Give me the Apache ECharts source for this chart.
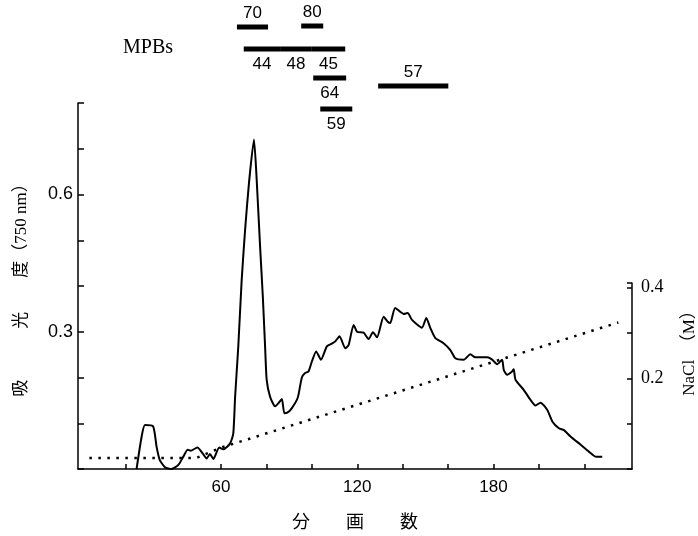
<!DOCTYPE html>
<html>
<head>
<meta charset="utf-8">
<script src="https://cdn.jsdelivr.net/npm/echarts@6.0.0/dist/echarts.min.js"></script>
<style>
html, body { margin: 0; padding: 0; background: #fff; }
#main { width: 698px; height: 536px; }
</style>
</head>
<body>
<div id="main"></div>
<script>
// 吸光度曲线 (分画数, 吸光度)
var absFrac = [22.8, 25, 26.5, 30.1, 31.6, 33, 35.3, 38.2, 41.2, 43.4, 45.3, 46.6, 49.6, 51.9, 53.7, 55.1, 56.6, 59.2, 61, 64,
    65.4, 66.2, 67.6, 69.1, 70.6, 72.3, 74.5, 75.7, 77.2, 78.4, 79.4, 80.1, 81.6, 83.8, 85.3, 86.8, 87.9, 89.7, 91.2, 93.4,
    94.1, 95.6, 97, 98.5, 100, 101.9, 104, 106.6, 108.8, 110.3, 112.2, 114.7, 116.2, 118.4, 119.9, 122.8, 125, 126.9, 128.7, 131.6,
    133.4, 134.5, 136.7, 140.4, 142.2, 144.1, 148.5, 150.4, 152.2, 154.4, 158, 161, 163.2, 166.9, 169.8, 172, 177.2, 179.4, 181.6, 183.8,
    184.5, 186, 188.2, 188.9, 189.7, 193.3, 196.3, 198.5, 200.7, 203.7, 205.9, 208.8, 211, 213.9, 218.4, 222, 225, 227.9];
var absValue = [0, 0.07, 0.096, 0.093, 0.049, 0.02, 0.004, 0, 0.009, 0.027, 0.042, 0.04, 0.047, 0.034, 0.023, 0.033, 0.022, 0.047, 0.043, 0.056,
    0.078, 0.158, 0.268, 0.414, 0.523, 0.625, 0.72, 0.632, 0.486, 0.377, 0.268, 0.195, 0.158, 0.137, 0.144, 0.153, 0.122, 0.125, 0.133, 0.151,
    0.162, 0.2, 0.21, 0.213, 0.235, 0.257, 0.239, 0.268, 0.274, 0.279, 0.29, 0.264, 0.271, 0.315, 0.3, 0.298, 0.284, 0.299, 0.288, 0.333,
    0.322, 0.319, 0.352, 0.339, 0.341, 0.326, 0.309, 0.33, 0.308, 0.286, 0.275, 0.26, 0.242, 0.239, 0.251, 0.244, 0.244, 0.239, 0.229, 0.239,
    0.217, 0.206, 0.213, 0.218, 0.195, 0.173, 0.151, 0.139, 0.145, 0.129, 0.104, 0.089, 0.085, 0.071, 0.053, 0.038, 0.027, 0.027];

// NaCl 浓度梯度
var naclFrac = [2, 49, 60, 235];
var naclValue = [0.024, 0.024, 0.047, 0.323];

// MPBs 区带
var bandName = ['70', '80', '44', '48', '45', '64', '57', '59'];
var bandFrom = [67, 95.3, 70, 86, 100, 100.6, 129.2, 103.7];
var bandTo = [80.7, 105, 86, 100, 114.7, 115.1, 160.1, 117.8];
var bandLane = [27, 26, 49, 49, 49, 78, 86, 109];
var bandSide = ['up', 'up', 'down', 'down', 'down', 'down', 'up', 'down'];

var fracTicks = [18, 60, 80, 100, 120, 140, 160, 180, 200, 220];
var fracLabels = [60, 120, 180];
var absLabels = [0.3, 0.6];
var naclLabels = [0.2, 0.4];

function pairs(xs, ys) {
    return xs.map(function (x, i) { return [x, ys[i]]; });
}
function pick(list) {
    return function (v) {
        for (var i = 0; i < list.length; i++) {
            if (Math.abs(v - list[i]) < 1e-6) return list[i].toFixed(1);
        }
        return '';
    };
}

var black = '#000';
var myChart = echarts.init(document.getElementById('main'));

var option = {
    animation: false,
    backgroundColor: '#fff',
    grid: [
        { left: 78, right: 66, top: 103, bottom: 67 },
        { left: 78, right: 66, top: 283, bottom: 67 },
        { left: 78, right: 66, top: 0, height: 130 }
    ],
    xAxis: [
        {
            gridIndex: 0, type: 'value', min: -3, max: 241,
            axisLine: { onZero: false, lineStyle: { color: black, width: 1.5 } },
            axisTick: { inside: true, length: 5, customValues: fracTicks, lineStyle: { color: black, width: 1.5 } },
            axisLabel: { customValues: fracLabels, margin: 10, color: black, fontSize: 17, fontFamily: 'Liberation Sans' },
            splitLine: { show: false },
            name: '分\u3000\u3000画\u3000\u3000数',
            nameLocation: 'middle', nameGap: 43,
            nameTextStyle: { color: black, fontSize: 18, fontFamily: 'Noto Sans CJK JP' }
        },
        { gridIndex: 1, type: 'value', min: -3, max: 241, show: false },
        { gridIndex: 2, type: 'value', min: -3, max: 241, show: false }
    ],
    yAxis: [
        {
            gridIndex: 0, type: 'value', min: 0, max: 0.8, interval: 0.1,
            axisLine: { show: true, onZero: false, lineStyle: { color: black, width: 1.5 } },
            axisTick: { show: true, inside: true, length: 6, lineStyle: { color: black, width: 1.5 } },
            axisLabel: { formatter: pick(absLabels), margin: 5, color: black, fontSize: 18, fontFamily: 'Liberation Sans' },
            splitLine: { show: false },
            name: '吸\u3000\u3000\u3000光\u3000\u3000度（750 nm）',
            nameLocation: 'middle', nameGap: 48,
            nameTextStyle: { color: black, fontSize: 17, fontFamily: 'Liberation Serif, Noto Sans CJK JP' }
        },
        {
            gridIndex: 1, type: 'value', position: 'right', min: 0, max: 0.41, interval: 0.1,
            axisLine: { show: true, onZero: false, lineStyle: { color: black, width: 1.5 } },
            axisTick: { show: true, inside: true, length: 5, lineStyle: { color: black, width: 1.5 } },
            axisLabel: { formatter: pick(naclLabels), margin: 9, color: black, fontSize: 18, fontFamily: 'Liberation Serif' },
            splitLine: { show: false }
        },
        { gridIndex: 2, type: 'value', min: 0, max: 130, inverse: true, show: false }
    ],
    graphic: [
        {
            type: 'text', x: 148, y: 48,
            style: { text: 'MPBs', fill: black, font: '20px "Liberation Serif"', align: 'center', verticalAlign: 'middle' }
        },
        {
            type: 'text', x: 690, y: 349, rotation: Math.PI / 2,
            style: { text: 'NaCl\u3000（M）', fill: black, font: '17px "Liberation Serif", "Noto Sans CJK JP"', align: 'center', verticalAlign: 'middle' }
        }
    ],
    series: [
        {
            name: '吸光度', type: 'line', xAxisIndex: 0, yAxisIndex: 0,
            data: pairs(absFrac, absValue),
            showSymbol: false, smooth: 0.2,
            lineStyle: { color: black, width: 2 }
        },
        {
            name: 'NaCl', type: 'line', xAxisIndex: 1, yAxisIndex: 1,
            data: pairs(naclFrac, naclValue),
            showSymbol: false,
            lineStyle: { color: black, width: 2.5, type: [2.5, 6.5], cap: 'butt' }
        },
        {
            name: 'MPBs', type: 'custom', xAxisIndex: 2, yAxisIndex: 2,
            data: bandName.map(function (n, i) { return [bandFrom[i], bandTo[i], bandLane[i], i]; }),
            renderItem: function (params, api) {
                var a = api.coord([api.value(0), api.value(2)]);
                var b = api.coord([api.value(1), api.value(2)]);
                var i = api.value(3);
                var up = bandSide[i] === 'up';
                return {
                    type: 'group',
                    children: [
                        { type: 'rect', shape: { x: a[0], y: a[1] - 2.5, width: b[0] - a[0], height: 5 }, style: { fill: black } },
                        {
                            type: 'text', x: (a[0] + b[0]) / 2, y: up ? a[1] - 14 : a[1] + 15,
                            style: { text: bandName[i], fill: black, font: '17px "Liberation Sans"', align: 'center', verticalAlign: 'middle' }
                        }
                    ]
                };
            }
        }
    ]
};

myChart.setOption(option);
</script>
</body>
</html>
